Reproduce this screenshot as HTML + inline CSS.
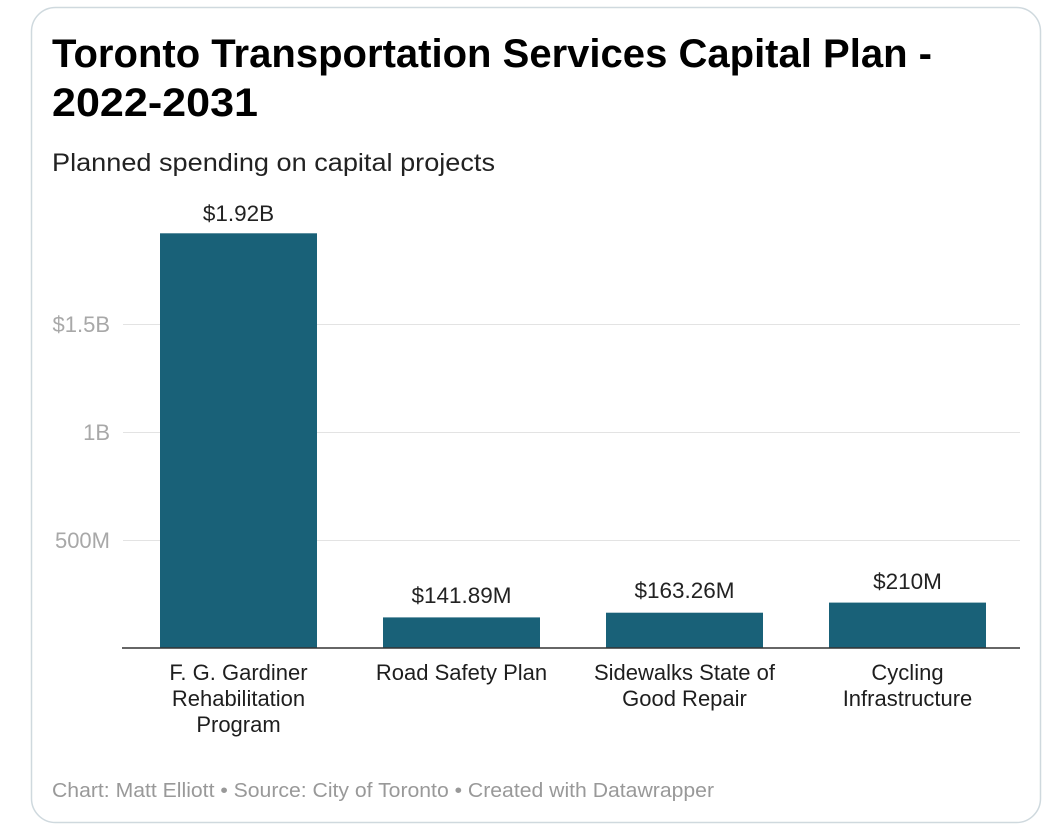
<!DOCTYPE html>
<html>
<head>
<meta charset="utf-8">
<style>
  html, body { margin: 0; padding: 0; background: #ffffff; }
  body { width: 1052px; height: 830px; overflow: hidden; }
  svg { display: block; font-family: "Liberation Sans", Arial, sans-serif; }
</style>
</head>
<body>
<svg width="1052" height="830" viewBox="0 0 1052 830" xmlns="http://www.w3.org/2000/svg">
  <rect x="0" y="0" width="1052" height="830" fill="#ffffff"/>
  <!-- card -->
  <rect x="31.5" y="7.5" width="1009" height="815" rx="24" ry="24" fill="#ffffff" stroke="#cfd9de" stroke-width="1.5"/>

  <!-- title -->
  <text x="52" y="67" font-size="40" font-weight="bold" fill="#000" textLength="880" lengthAdjust="spacingAndGlyphs">Toronto Transportation Services Capital Plan -</text>
  <text x="52" y="116" font-size="40" font-weight="bold" fill="#000" textLength="206" lengthAdjust="spacingAndGlyphs">2022-2031</text>

  <!-- subtitle -->
  <text x="52" y="171" font-size="25" fill="#222" textLength="443" lengthAdjust="spacingAndGlyphs">Planned spending on capital projects</text>

  <!-- gridlines -->
  <g stroke="#e3e3e3" stroke-width="1">
    <line x1="123" y1="324.5" x2="1020" y2="324.5"/>
    <line x1="123" y1="432.5" x2="1020" y2="432.5"/>
    <line x1="123" y1="540.5" x2="1020" y2="540.5"/>
  </g>

  <!-- tick labels -->
  <g font-size="22" fill="#a8a8a8" text-anchor="end">
    <text x="110" y="332">$1.5B</text>
    <text x="110" y="440">1B</text>
    <text x="110" y="548">500M</text>
  </g>

  <!-- bars -->
  <g fill="#196178">
    <rect x="160" y="233.3" width="157" height="414.7"/>
    <rect x="383" y="617.4" width="157" height="30.6"/>
    <rect x="606" y="612.7" width="157" height="35.3"/>
    <rect x="829" y="602.6" width="157" height="45.4"/>
  </g>

  <!-- baseline -->
  <line x1="122" y1="648" x2="1020" y2="648" stroke="#333" stroke-width="1.5"/>

  <!-- value labels -->
  <g font-size="22.5" fill="#222" text-anchor="middle">
    <text x="238.5" y="221">$1.92B</text>
    <text x="461.5" y="603">$141.89M</text>
    <text x="684.5" y="598">$163.26M</text>
    <text x="907.5" y="589">$210M</text>
  </g>

  <!-- category labels -->
  <g font-size="22" fill="#1e1e1e" text-anchor="middle">
    <text x="238.5" y="680">F. G. Gardiner</text>
    <text x="238.5" y="706">Rehabilitation</text>
    <text x="238.5" y="732">Program</text>
    <text x="461.5" y="680">Road Safety Plan</text>
    <text x="684.5" y="680">Sidewalks State of</text>
    <text x="684.5" y="706">Good Repair</text>
    <text x="907.5" y="680">Cycling</text>
    <text x="907.5" y="706">Infrastructure</text>
  </g>

  <!-- footer -->
  <text x="52" y="797" font-size="20" fill="#999" textLength="662" lengthAdjust="spacingAndGlyphs">Chart: Matt Elliott • Source: City of Toronto • Created with Datawrapper</text>
</svg>
</body>
</html>
